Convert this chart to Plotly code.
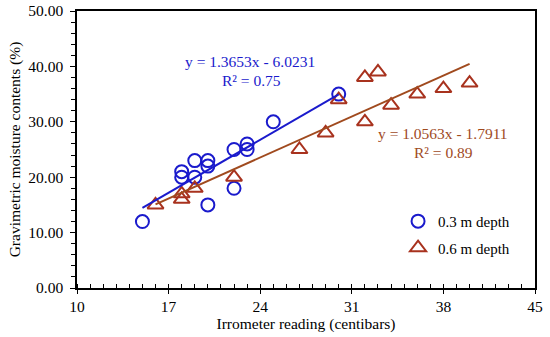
import plotly.graph_objects as go

# 0.3 m depth
x_03 = [15, 18, 18, 19, 19, 20, 20, 20, 22, 22, 23, 23, 25, 30]
y_03 = [12, 21, 20, 23, 20, 23, 22, 15, 25, 18, 26, 25, 30, 35]
# 0.6 m depth
x_06 = [16, 18, 18, 19, 22, 27, 29, 30, 32, 32, 33, 34, 36, 38, 40]
y_06 = [15, 17, 16, 18, 20, 25, 28, 34, 38, 30, 39, 33, 35, 36, 37]

# Trendline coefficients (as printed on chart)
slope_03, icpt_03, r2_03 = 1.3653, -6.0231, 0.75
slope_06, icpt_06, r2_06 = 1.0563, -1.7911, 0.89

x_ticks = [10, 17, 24, 31, 38, 45]
y_ticks = [0, 10, 20, 30, 40, 50]

BLUE = "#1a1acc"
RED_M = "#a8321e"
RED_L = "#a04a1e"
FONT = "Liberation Serif, Times New Roman, serif"

fig = go.Figure()

fig.add_trace(go.Scatter(
    x=x_03, y=y_03, mode="markers", name="0.3 m depth", legendgroup="a",
    marker=dict(symbol="circle-open", size=13, color=BLUE, line=dict(width=2, color=BLUE)),
))
fig.add_trace(go.Scatter(
    x=x_06, y=y_06, mode="markers", name="0.6 m depth", legendgroup="b",
    marker=dict(symbol="triangle-up-open", size=14, color=RED_M, line=dict(width=2, color=RED_M)),
))

lx03 = [min(x_03), max(x_03)]
fig.add_trace(go.Scatter(
    x=lx03, y=[slope_03 * v + icpt_03 for v in lx03], mode="lines",
    line=dict(color=BLUE, width=2), showlegend=False, hoverinfo="skip",
))
lx06 = [min(x_06), max(x_06)]
fig.add_trace(go.Scatter(
    x=lx06, y=[slope_06 * v + icpt_06 for v in lx06], mode="lines",
    line=dict(color=RED_L, width=2), showlegend=False, hoverinfo="skip",
))

fig.add_annotation(x=23.22, y=40.9, text=f"y = {slope_03}x - {abs(icpt_03)}", showarrow=False,
                   font=dict(family=FONT, size=15.5, color=BLUE), xanchor="center", yanchor="middle")
fig.add_annotation(x=23.3, y=37.4, text=f"R² = {r2_03:.2f}", showarrow=False,
                   font=dict(family=FONT, size=15.5, color=BLUE), xanchor="center", yanchor="middle")
fig.add_annotation(x=37.95, y=27.9, text=f"y = {slope_06}x - {abs(icpt_06)}", showarrow=False,
                   font=dict(family=FONT, size=15.5, color=RED_L), xanchor="center", yanchor="middle")
fig.add_annotation(x=38.0, y=24.4, text=f"R² = {r2_06:.2f}", showarrow=False,
                   font=dict(family=FONT, size=15.5, color=RED_L), xanchor="center", yanchor="middle")

axis_common = dict(
    showgrid=False, zeroline=False, showline=True, linecolor="black", linewidth=1.5,
    mirror=True, tickfont=dict(family=FONT, size=15.5, color="black"),
    tickcolor="black", automargin=False,
)

fig.update_xaxes(
    **axis_common, range=[10, 45], tickvals=x_ticks, ticks="outside", ticklen=4,
    minor=dict(dtick=1, tick0=10, ticks="inside", ticklen=4, tickcolor="black"),
    title=dict(text="Irrometer reading (centibars)", font=dict(family=FONT, size=15.5, color="black"), standoff=0),
)
fig.update_yaxes(
    **axis_common, range=[0, 50], tickvals=y_ticks, tickformat=".2f", ticks="outside", ticklen=5,
    ticklabelstandoff=4,
    minor=dict(dtick=2, tick0=0, ticks="outside", ticklen=4, tickcolor="black"),
    title=dict(text="Gravimetric moisture contents (%)", font=dict(family=FONT, size=15.5, color="black"), standoff=4),
)

fig.update_layout(
    width=550, height=337, margin=dict(l=77, r=15, t=11, b=49),
    paper_bgcolor="white", plot_bgcolor="white",
    font=dict(family=FONT, size=15, color="black"),
    legend=dict(x=0.701, y=0.30, xanchor="left", yanchor="top", bgcolor="rgba(0,0,0,0)",
                font=dict(family=FONT, size=15, color="black"), tracegroupgap=4,
                itemwidth=30),
    showlegend=True,
)

fig.write_html("out.html", config={"displayModeBar": False},
               post_script="document.body.style.margin='0';document.body.style.overflow='hidden';")
